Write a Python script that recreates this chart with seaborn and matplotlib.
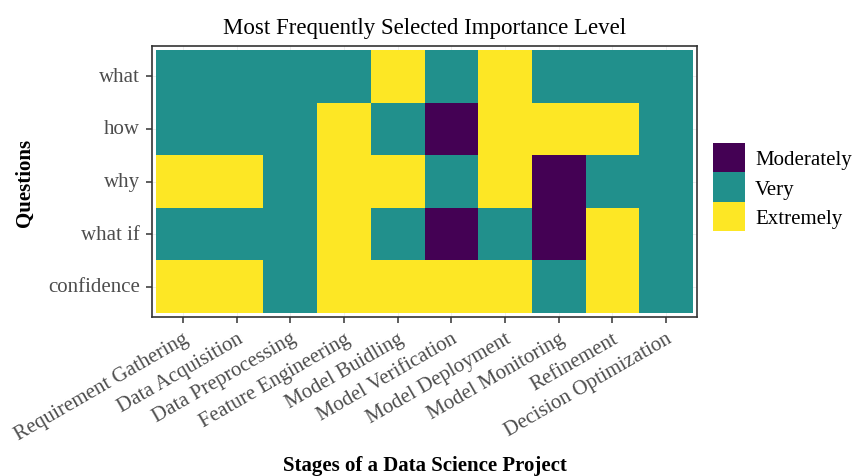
import seaborn as sns
import matplotlib.pyplot as plt
import pandas as pd
import numpy as np
from matplotlib.colors import ListedColormap
from matplotlib.patches import Patch

# Data
stages = ["Requirement Gathering", "Data Acquisition", "Data Preprocessing",
          "Feature Engineering", "Model Buidling", "Model Verification",
          "Model Deployment", "Model Monitoring", "Refinement",
          "Decision Optimization"]
questions = ["what", "how", "why", "what if", "confidence"]
levels = ["Moderately", "Very", "Extremely"]
level_colors = ["#440154", "#21908C", "#FDE725"]

what_row = ["Very", "Very", "Very", "Very", "Extremely", "Very", "Extremely", "Very", "Very", "Very"]
how_row = ["Very", "Very", "Very", "Extremely", "Very", "Moderately", "Extremely", "Extremely", "Extremely", "Very"]
why_row = ["Extremely", "Extremely", "Very", "Extremely", "Extremely", "Very", "Extremely", "Moderately", "Very", "Very"]
whatif_row = ["Very", "Very", "Very", "Extremely", "Very", "Moderately", "Very", "Moderately", "Extremely", "Very"]
confidence_row = ["Extremely", "Extremely", "Very", "Extremely", "Extremely", "Extremely", "Extremely", "Very", "Extremely", "Very"]

rows = [what_row, how_row, why_row, whatif_row, confidence_row]
codes = pd.DataFrame([[levels.index(v) for v in r] for r in rows],
                     index=questions, columns=stages)

sns.set_style("white")
plt.rcParams["font.family"] = ["Liberation Serif", "DejaVu Serif"]
plt.rcParams["text.color"] = "black"

fig = plt.figure(figsize=(8.52, 4.77), dpi=100)
ax = fig.add_axes([152 / 852, 1 - 318 / 477, 545 / 852, 271 / 477])

sns.heatmap(codes, cmap=ListedColormap(level_colors), vmin=-0.5, vmax=2.5,
            cbar=False, ax=ax, linewidths=0)

# small gap between tiles and panel border, like ggplot's expansion
ax.set_xlim(-0.075, 10.075)
ax.set_ylim(5.08, -0.08)
ax.grid(True, color="#EBEBEB", linewidth=0.6)
ax.set_axisbelow(True)

for s in ax.spines.values():
    s.set_visible(True)
    s.set_color("#333333")
    s.set_linewidth(1.2)

ax.tick_params(axis="both", length=4.5, width=1.1, color="#333333", pad=4,
               labelsize=15, labelcolor="#4D4D4D", bottom=True, left=True)
ax.set_xticklabels(stages, rotation=30, ha="right", rotation_mode="anchor")
ax.set_yticklabels(questions, rotation=0)

ax.set_title("Most Frequently Selected Importance Level", fontsize=16.5,
             pad=9, color="black")
ax.set_xlabel("Stages of a Data Science Project", fontsize=15,
              fontweight="bold", color="black", labelpad=8)
ax.set_ylabel("Questions", fontsize=15, fontweight="bold", color="black",
              labelpad=10)

handles = [Patch(facecolor=c, edgecolor="none", label=l)
           for c, l in zip(level_colors, levels)]
ax.legend(handles=handles, loc="center left", bbox_to_anchor=(1.03, 0.48),
          frameon=False, fontsize=15, handlelength=1.5, handleheight=1.8,
          labelspacing=0.0, handletextpad=0.5, borderaxespad=0,
          borderpad=0)

fig.savefig("out.png", dpi=100)
